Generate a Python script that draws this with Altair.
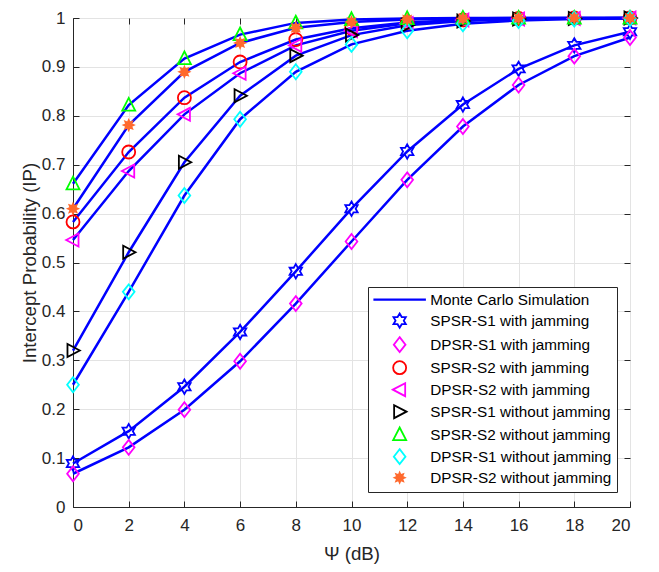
import altair as alt
import pandas as pd
import math

# ---------------- data ----------------
psi_db = [0, 2, 4, 6, 8, 10, 12, 14, 16, 18, 20]

series_names = [
    "SPSR-S1 with jamming",
    "DPSR-S1 with jamming",
    "SPSR-S2 with jamming",
    "DPSR-S2 with jamming",
    "SPSR-S1 without jamming",
    "SPSR-S2 without jamming",
    "DPSR-S1 without jamming",
    "DPSR-S2 without jamming",
]

spsr_s1_jam = [0.089, 0.155, 0.246, 0.358, 0.482, 0.610, 0.727, 0.823, 0.896, 0.944, 0.972]
dpsr_s1_jam = [0.068, 0.122, 0.199, 0.298, 0.416, 0.543, 0.669, 0.778, 0.863, 0.922, 0.960]
spsr_s2_jam = [0.583, 0.726, 0.837, 0.910, 0.956, 0.979, 0.991, 0.996, 0.999, 1.000, 1.000]
dpsr_s2_jam = [0.546, 0.687, 0.803, 0.887, 0.944, 0.974, 0.989, 0.996, 0.998, 0.999, 1.000]
spsr_s1_nojam = [0.320, 0.521, 0.705, 0.841, 0.923, 0.965, 0.985, 0.994, 0.998, 0.999, 1.000]
spsr_s2_nojam = [0.661, 0.822, 0.917, 0.966, 0.990, 0.997, 0.999, 1.000, 1.000, 1.000, 1.000]
dpsr_s1_nojam = [0.250, 0.440, 0.637, 0.793, 0.890, 0.946, 0.974, 0.988, 0.995, 0.998, 0.999]
dpsr_s2_nojam = [0.610, 0.781, 0.890, 0.949, 0.980, 0.992, 0.997, 0.999, 1.000, 1.000, 1.000]

all_series = [spsr_s1_jam, dpsr_s1_jam, spsr_s2_jam, dpsr_s2_jam,
              spsr_s1_nojam, spsr_s2_nojam, dpsr_s1_nojam, dpsr_s2_nojam]

x_ticks = [0, 2, 4, 6, 8, 10, 12, 14, 16, 18, 20]
y_ticks = [0, 0.1, 0.2, 0.3, 0.4, 0.5, 0.6, 0.7, 0.8, 0.9, 1]

line_label = "Monte Carlo Simulation"

rows = []
for order, (name, vals) in enumerate(zip(series_names, all_series)):
    for x, y in zip(psi_db, vals):
        rows.append({"x": x, "y": y, "series": name, "order": order})
df = pd.DataFrame(rows)

# ---------------- styles ----------------
W, H = 557, 489
FONT = "Liberation Sans"
AX = "#262626"


def starburst(n=8, r_out=0.75, r_in=0.42):
    pts = []
    for k in range(2 * n):
        r = r_out if k % 2 == 0 else r_in
        a = -math.pi / 2 + k * math.pi / n
        pts.append(f"{r*math.cos(a):.3f},{r*math.sin(a):.3f}")
    return "M" + "L".join(pts) + "Z"


hexagram = ("M0,-1.1L0.318,-0.55L0.953,-0.55L0.635,0L0.953,0.55L0.318,0.55"
            "L0,1.1L-0.318,0.55L-0.953,0.55L-0.635,0L-0.953,-0.55L-0.318,-0.55Z")
diamond = "M0,-1.15L0.9,0L0,1.15L-0.9,0Z"
tri_left = "M-1.05,0L0.85,-1L0.85,1Z"
tri_right = "M1.05,0L-0.85,-1L-0.85,1Z"
tri_up = "M0,-1.1L1,0.85L-1,0.85Z"
line_sym = "M-3.9,-0.05L3.9,-0.05L3.9,0.05L-3.9,0.05Z"

legend_domain = [line_label] + series_names
legend_colors = ["#0000ff", "#0000ff", "#ff00ff", "#ff0000", "#ff00ff",
                 "#000000", "#00ff00", "#00ffff", "#ff6a2e"]
legend_shapes = [line_sym, hexagram, diamond, "circle", tri_left,
                 tri_right, tri_up, diamond, starburst()]
legend_fills = ["#0000ff"] + ["transparent"] * 7 + ["#ff6a2e"]

legend = alt.Legend(
    title=None, orient="none", legendX=295, legendY=269,
    fillColor="white", strokeColor=AX, cornerRadius=0,
    padding=5, symbolOffset=19, labelOffset=23, rowPadding=1,
    symbolSize=169, symbolStrokeWidth=1.8,
    labelFont=FONT, labelFontSize=15.3, labelColor="#000000", labelLimit=400,
)

xscale = alt.Scale(domain=[0, 20], nice=False)
yscale = alt.Scale(domain=[0, 1], nice=False)

base = alt.Chart(df)

lines = base.mark_line(color="#0000ff", strokeWidth=2.5).encode(
    x=alt.X("x:Q", scale=xscale, axis=alt.Axis(
        values=x_ticks, title="Ψ (dB)", grid=True, gridColor="#e3e3e3",
        ticks=False, tickSize=0, labelPadding=10, domainColor=AX,
        labelFont=FONT, labelFontSize=17, labelColor=AX,
        titleFont=FONT, titleFontSize=18.7, titleColor=AX, titleFontWeight="normal",
        titlePadding=11)),
    y=alt.Y("y:Q", scale=yscale, axis=alt.Axis(
        values=y_ticks, title="Intercept Probability (IP)", grid=True, gridColor="#e3e3e3",
        ticks=False, tickSize=0, labelPadding=8, domainColor=AX, format="~g",
        labelFont=FONT, labelFontSize=17, labelColor=AX,
        titleFont=FONT, titleFontSize=18.7, titleColor=AX, titleFontWeight="normal",
        titlePadding=2)),
    detail="series:N",
)

points = base.mark_point(filled=False, size=169, strokeWidth=1.8, opacity=1).encode(
    x=alt.X("x:Q", scale=xscale, axis=alt.Axis(
        orient="top", offset=-H, values=x_ticks, labels=False, grid=False,
        domain=False, ticks=True, tickSize=6, tickColor=AX, title=None)),
    y=alt.Y("y:Q", scale=yscale, axis=alt.Axis(
        orient="right", offset=-W, values=y_ticks, labels=False, grid=False,
        domain=False, ticks=True, tickSize=6, tickColor=AX, title=None)),
    color=alt.Color("series:N", scale=alt.Scale(domain=legend_domain, range=legend_colors), legend=legend),
    shape=alt.Shape("series:N", scale=alt.Scale(domain=legend_domain, range=legend_shapes), legend=legend),
    fill=alt.Fill("series:N", scale=alt.Scale(domain=legend_domain, range=legend_fills), legend=legend),
    order="order:Q",
)

frame = base.mark_line(opacity=0).encode(
    x=alt.X("x:Q", scale=xscale, axis=alt.Axis(
        orient="bottom", offset=-H, values=x_ticks, labels=False, grid=False,
        domain=False, ticks=True, tickSize=6, tickColor=AX, title=None)),
    y=alt.Y("y:Q", scale=yscale, axis=alt.Axis(
        orient="left", offset=-W, values=y_ticks, labels=False, grid=False,
        domain=False, ticks=True, tickSize=6, tickColor=AX, title=None)),
    detail="series:N",
)

chart = (
    alt.layer(lines, points, frame)
    .resolve_axis(x="independent", y="independent")
    .properties(width=W, height=H, autosize=alt.AutoSizeParams(type="none"),
                padding={"left": 65, "top": 10, "right": 21, "bottom": 57})
    .configure_view(stroke=AX, strokeWidth=1)
    .configure(background="white")
)

chart.save("out.html", embed_options={"renderer": "svg", "actions": False})
